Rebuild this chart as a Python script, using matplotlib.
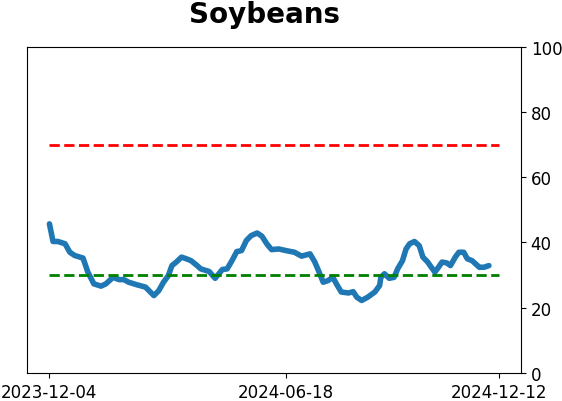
import matplotlib
matplotlib.use("Agg")
import matplotlib.pyplot as plt
import pandas as pd

dates = ["2023-12-04", "2023-12-07", "2023-12-11", "2023-12-17", "2023-12-21", "2023-12-25",
         "2024-01-01", "2024-01-05", "2024-01-10", "2024-01-16", "2024-01-20", "2024-01-26",
         "2024-01-31", "2024-02-04", "2024-02-08", "2024-02-15", "2024-02-22", "2024-02-29",
         "2024-03-04", "2024-03-08", "2024-03-12", "2024-03-15", "2024-03-19", "2024-03-23",
         "2024-03-27", "2024-03-31", "2024-04-05", "2024-04-08", "2024-04-15", "2024-04-20",
         "2024-04-26", "2024-04-30", "2024-05-04", "2024-05-08", "2024-05-12", "2024-05-16",
         "2024-05-20", "2024-05-25", "2024-05-29", "2024-06-02", "2024-06-06", "2024-06-12",
         "2024-06-18", "2024-06-25", "2024-07-01", "2024-07-08", "2024-07-12", "2024-07-15",
         "2024-07-19", "2024-07-23", "2024-07-27", "2024-07-30", "2024-08-03", "2024-08-09",
         "2024-08-13", "2024-08-16", "2024-08-20", "2024-08-25", "2024-08-31", "2024-09-04",
         "2024-09-05", "2024-09-08", "2024-09-12", "2024-09-16", "2024-09-19", "2024-09-23",
         "2024-09-26", "2024-09-29", "2024-10-03", "2024-10-07", "2024-10-10", "2024-10-14",
         "2024-10-17", "2024-10-20", "2024-10-23", "2024-10-26", "2024-10-30", "2024-11-02",
         "2024-11-06", "2024-11-09", "2024-11-13", "2024-11-16", "2024-11-20", "2024-11-26",
         "2024-11-30", "2024-12-04"]
values = [45.7, 40.3, 40.3, 39.6, 37.0, 36.0,
          35.2, 30.9, 27.3, 26.6, 27.3, 29.3,
          28.6, 28.6, 27.8, 27.0, 26.3, 23.7,
          25.2, 27.8, 29.8, 32.9, 34.1, 35.5,
          35.0, 34.4, 32.9, 31.9, 31.1, 29.0,
          31.7, 31.9, 34.4, 37.2, 37.5, 40.6,
          42.1, 42.9, 41.9, 39.6, 37.8, 38.0,
          37.5, 37.0, 35.8, 36.5, 34.0, 31.4,
          27.8, 28.3, 29.3, 27.3, 24.8, 24.5,
          24.9, 23.2, 22.2, 23.2, 24.8, 26.8,
          29.3, 30.4, 29.0, 29.3, 31.9, 34.4,
          38.0, 39.6, 40.3, 39.0, 35.5, 34.0,
          32.4, 30.9, 32.4, 34.0, 33.7, 32.9,
          35.5, 37.0, 37.0, 35.0, 34.4, 32.4,
          32.4, 32.9]

upper_level = 70
lower_level = 30
ref_start = "2023-12-04"
ref_end = "2024-12-12"
tick_labels = ["2023-12-04", "2024-06-18", "2024-12-12"]
yticks = [0, 20, 40, 60, 80, 100]

x = pd.to_datetime(dates)
ref_x = pd.to_datetime([ref_start, ref_end])

fig = plt.figure(figsize=(5.62, 4.02), dpi=100)
ax = fig.add_axes([0.048, 0.070, 0.879, 0.811])

ax.plot(x, values, color="#1f77b4", linewidth=4, solid_capstyle="round")
ax.plot(ref_x, [upper_level, upper_level], color="red", linestyle="--", linewidth=2)
ax.plot(ref_x, [lower_level, lower_level], color="green", linestyle="--", linewidth=2)

ax.set_ylim(0, 100)
ax.set_yticks(yticks)
ax.yaxis.tick_right()
ax.set_xticks(pd.to_datetime(tick_labels))
ax.set_xticklabels(tick_labels)
ax.tick_params(labelsize=12)
ax.set_title("Soybeans", fontsize=20, fontweight="bold", pad=18, x=0.48)

fig.savefig("out.png", dpi=100)
